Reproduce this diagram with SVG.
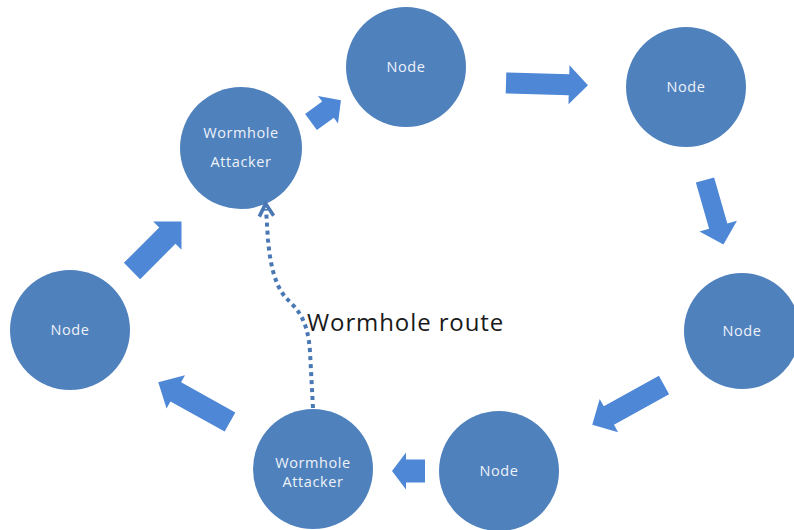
<svg xmlns="http://www.w3.org/2000/svg" width="794" height="530" viewBox="0 0 794 530">
  <defs>
    <marker id="open-head" viewBox="0 0 10 10" refX="5" refY="5" markerWidth="4.5" markerHeight="4.5" orient="auto" markerUnits="strokeWidth">
      <path d="M1,1 L8,5 L1,9" fill="none" stroke="#4a78b4" stroke-width="2"/>
    </marker>
  </defs>
  <style>
    .node { fill: #4f81bd; }
    .label { fill: #eef2f9; font-family: "Open Sans", "Noto Sans", sans-serif; font-size: 14.5px; letter-spacing: 0.6px; text-anchor: middle; }
    .flow { fill: #4d87d6; }
    .route { fill: none; stroke: #4a78b4; stroke-width: 4; stroke-dasharray: 4 4; }
    .route-label { fill: #1a1a1a; font-family: "Open Sans", "Noto Sans", sans-serif; font-size: 24px; letter-spacing: 0.9px; }
  </style>
  <rect width="794" height="530" fill="#ffffff"/>

  <!-- ring members -->
  <g id="attacker-top">
    <circle class="node" cx="241" cy="148" r="61"/>
    <text class="label" x="241" y="138">Wormhole</text>
    <text class="label" x="241" y="167">Attacker</text>
  </g>
  <g id="node-top">
    <circle class="node" cx="406" cy="67" r="60"/>
    <text class="label" x="406" y="72">Node</text>
  </g>
  <g id="node-top-right">
    <circle class="node" cx="686" cy="87" r="60"/>
    <text class="label" x="686" y="92">Node</text>
  </g>
  <g id="node-right">
    <circle class="node" cx="742" cy="331" r="58"/>
    <text class="label" x="742" y="336">Node</text>
  </g>
  <g id="node-bottom">
    <circle class="node" cx="499" cy="471" r="60"/>
    <text class="label" x="499" y="476">Node</text>
  </g>
  <g id="attacker-bottom">
    <circle class="node" cx="313" cy="469" r="60"/>
    <text class="label" x="313" y="468">Wormhole</text>
    <text class="label" x="313" y="487">Attacker</text>
  </g>
  <g id="node-left">
    <circle class="node" cx="70" cy="330" r="60"/>
    <text class="label" x="70" y="335">Node</text>
  </g>

  <!-- connectors: block arrows around the ring, dotted tunnel between attackers -->
  <g id="connectors">
    <path class="flow" transform="translate(311,122) rotate(-36)" d="M0,-10 L21,-10 L21,-17 L37,0 L21,17 L21,10 L0,10 Z"/>
    <path class="flow" transform="translate(506,83) rotate(1.5)" d="M0,-10.5 L63,-10.5 L63,-19.5 L82,0 L63,19.5 L63,10.5 L0,10.5 Z"/>
    <path class="flow" transform="translate(705,180) rotate(74)" d="M0,-9.5 L48,-9.5 L48,-19.5 L67,0 L48,19.5 L48,9.5 L0,9.5 Z"/>
    <path class="flow" transform="translate(664,385) rotate(151)" d="M0,-10.5 L63,-10.5 L63,-19 L82,0 L63,19 L63,10.5 L0,10.5 Z"/>
    <path class="flow" transform="translate(425,471) rotate(180)" d="M0,-11.5 L19,-11.5 L19,-18.5 L33,0 L19,18.5 L19,11.5 L0,11.5 Z"/>
    <path class="flow" transform="translate(230,422) rotate(209)" d="M0,-11 L62,-11 L62,-19 L82,0 L62,19 L62,11 L0,11 Z"/>
    <path class="flow" transform="translate(132,271) rotate(-45)" d="M0,-11.5 L50,-11.5 L50,-20 L70,0 L50,20 L50,11.5 L0,11.5 Z"/>
    <path class="route" d="M313,408 L310,352 C308,318 296,308 286,298 C274,284 270,262 268,240 L266,209" marker-end="url(#open-head)"/>
  </g>

  <text class="route-label" x="307" y="331">Wormhole route</text>
</svg>
